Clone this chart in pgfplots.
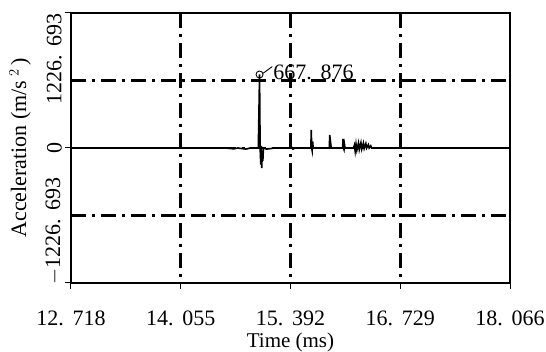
\documentclass[border=0pt]{standalone}
\usepackage{fontspec}
\setmainfont{Liberation Serif}
\usepackage{pgfplots}
\pgfplotsset{compat=1.18}
\newcommand{\tf}{\fontsize{22}{26}\selectfont}
\newcommand{\dsp}{\hspace{0.4em}}
\begin{document}
\begin{tikzpicture}
\fontsize{20}{24}\selectfont
\tikzset{gridl/.style={black, line width=2.6pt, dash pattern=on 15pt off 6pt on 3pt off 6pt}}
\begin{axis}[
  scale only axis, width=439pt, height=270pt,
  xmin=12.718, xmax=18.066, ymin=-1226.693, ymax=1226.693,
  xtick={12.718,14.055,15.392,16.729,18.066},
  xticklabels={12.\dsp718,14.\dsp055,15.\dsp392,16.\dsp729,18.\dsp066},
  ytick={-1226.693,0,1226.693}, yticklabels={},
  tick pos=left, tick align=outside, major tick length=6pt,
  tick style={black, line width=1pt},
  axis line style={black, line width=1.2pt},
  xticklabel style={font=\tf, yshift=-15pt},
  xlabel={Time (ms)}, xlabel style={font=\fontsize{21}{25}\selectfont, yshift=6pt},
  clip=false,
]
% grid lines
\draw[gridl] (axis cs:12.718,613.35) -- (axis cs:18.066,613.35);
\draw[gridl] (axis cs:12.718,0) -- (axis cs:18.066,0);
\draw[gridl] (axis cs:12.718,-613.35) -- (axis cs:18.066,-613.35);
\draw[gridl] (axis cs:14.055,1226.693) -- (axis cs:14.055,-1226.693);
\draw[gridl] (axis cs:15.392,1226.693) -- (axis cs:15.392,-1226.693);
\draw[gridl] (axis cs:16.729,1226.693) -- (axis cs:16.729,-1226.693);
\addplot[black, line width=1.6pt, mark=none] coordinates {
(12.718,0) (14.60,0) (14.70,-8) (14.75,0) (14.85,-10) (14.90,0) (15.00,0)
(15.015,667.876) (15.022,0) (15.030,-150) (15.035,20) (15.042,-182) (15.048,-30)
(15.055,-120) (15.062,0) (15.10,-10) (15.20,0) (15.38,0) (15.40,15) (15.42,-10)
(15.45,0) (15.64,0) (15.645,164) (15.650,0) (15.656,-25) (15.662,60) (15.668,0)
(15.865,0) (15.870,118) (15.875,0) (15.882,40) (15.888,0) (16.027,0) (16.032,82)
(16.037,0) (16.044,-15) (16.05,30) (16.056,0) (16.16,0) (16.17,25) (16.18,-30) (16.19,35)
(16.20,-20) (16.22,45) (16.23,-15) (16.25,48) (16.26,-10) (16.28,45) (16.29,-5)
(16.31,40) (16.32,0) (16.34,30) (16.35,0) (16.37,20) (16.38,0) (18.066,0)
};
\addplot[black, line width=0.9pt, only marks, mark=o, mark size=3.5pt] coordinates {(15.015,667.876)};
\draw[black, line width=0.9pt] (axis cs:15.06,680) -- (axis cs:15.17,740);
\node[anchor=west, inner sep=0pt, font=\tf] at (axis cs:15.18,690) {667.\dsp876};
% y tick labels
\node[rotate=90, anchor=south east, inner sep=0pt, font=\tf] at ([xshift=-9pt]axis cs:12.718,1226.693) {1226.\dsp693};
\node[rotate=90, anchor=south, inner sep=0pt, font=\tf] at ([xshift=-9pt]axis cs:12.718,0) {0};
\node[rotate=90, anchor=south west, inner sep=0pt, font=\tf] at ([xshift=-9pt,yshift=-2pt]axis cs:12.718,-1226.693) {$-$1226.\dsp693};
\node[rotate=90, anchor=south, inner sep=0pt, font=\fontsize{22}{26}\selectfont] at ([xshift=-40pt]axis cs:12.718,0) {Acceleration (m/s\,$^{2}$\,)};
\end{axis}
\pgfresetboundingbox
\path ([shift={(-71pt,-69pt)}]current axis.south west) rectangle ([shift={(36pt,13pt)}]current axis.north east);
\end{tikzpicture}
\end{document}
